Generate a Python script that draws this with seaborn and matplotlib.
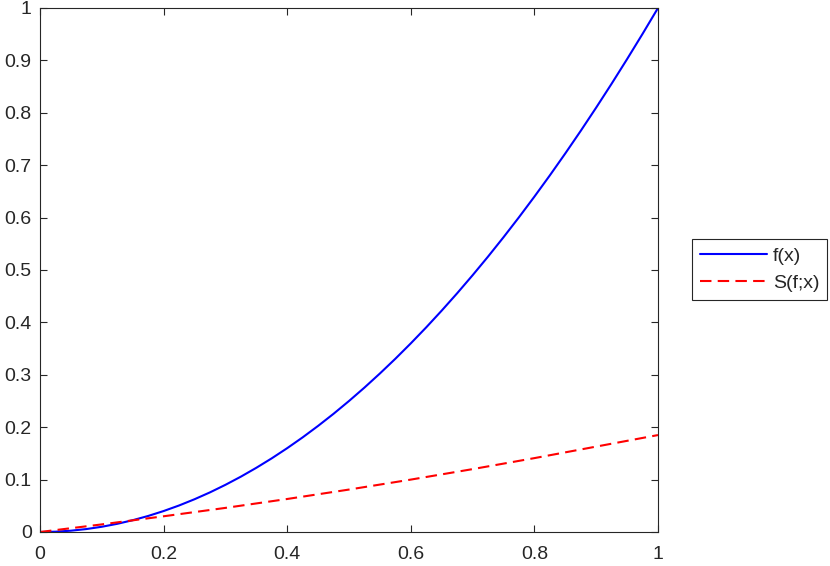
import pandas as pd
import matplotlib.pyplot as plt
import seaborn as sns

# values
x_f = [0, 0.025, 0.05, 0.075, 0.1, 0.125, 0.15, 0.175, 0.2, 0.225, 0.25,
       0.275, 0.3, 0.325, 0.35, 0.375, 0.4, 0.425, 0.45, 0.475, 0.5,
       0.525, 0.55, 0.575, 0.6, 0.625, 0.65, 0.675, 0.7, 0.725, 0.75,
       0.775, 0.8, 0.825, 0.85, 0.875, 0.9, 0.925, 0.95, 0.975, 1.0]
y_f = [0, 0.0006, 0.0025, 0.0056, 0.01, 0.0156, 0.0225, 0.0306, 0.04, 0.0506, 0.0625,
       0.0756, 0.09, 0.1056, 0.1225, 0.1406, 0.16, 0.1806, 0.2025, 0.2256, 0.25,
       0.2756, 0.3025, 0.3306, 0.36, 0.3906, 0.4225, 0.4556, 0.49, 0.5256, 0.5625,
       0.6006, 0.64, 0.6806, 0.7225, 0.7656, 0.81, 0.8556, 0.9025, 0.9506, 1.0]

x_s = [0, 0.1, 0.2, 0.3, 0.4, 0.5, 0.6, 0.7, 0.8, 0.9, 1.0]
y_s = [0, 0.0145, 0.030, 0.046, 0.063, 0.081, 0.100, 0.120, 0.141, 0.163, 0.185]

xticks = [0, 0.2, 0.4, 0.6, 0.8, 1]
xtick_labels = ['0', '0.2', '0.4', '0.6', '0.8', '1']
yticks = [0, 0.1, 0.2, 0.3, 0.4, 0.5, 0.6, 0.7, 0.8, 0.9, 1]
ytick_labels = ['0', '0.1', '0.2', '0.3', '0.4', '0.5', '0.6', '0.7', '0.8', '0.9', '1']

sns.set_style('ticks')
plt.rcParams['font.family'] = ['Liberation Sans', 'DejaVu Sans']

df_f = pd.DataFrame({'x': x_f, 'y': y_f})
df_s = pd.DataFrame({'x': x_s, 'y': y_s})

fig = plt.figure(figsize=(8.3, 5.66), dpi=100)
ax = fig.add_axes([40 / 830, 34 / 566, 618 / 830, 524 / 566])

sns.lineplot(data=df_f, x='x', y='y', ax=ax, color='#0000ff', linewidth=1.5, label='f(x)')
sns.lineplot(data=df_s, x='x', y='y', ax=ax, color='#ff0000', linewidth=1.5,
             linestyle=(0, (5.5, 3)), label='S(f;x)')

ax.set_xlim(0, 1)
ax.set_ylim(0, 1)
ax.set_xticks(xticks)
ax.set_xticklabels(xtick_labels)
ax.set_yticks(yticks)
ax.set_yticklabels(ytick_labels)
ax.set_xlabel('')
ax.set_ylabel('')
ax.tick_params(direction='in', length=5, width=0.8, colors='#262626',
               labelsize=14, top=True, right=True)
ax.tick_params(axis='y', pad=6)
ax.tick_params(axis='x', pad=10)
for side in ['top', 'right', 'bottom', 'left']:
    ax.spines[side].set_visible(True)
    ax.spines[side].set_color('#262626')
    ax.spines[side].set_linewidth(0.8)

# legend box sits right of the axes, roughly at mid height
leg = ax.legend(loc='upper left', bbox_to_anchor=(692 / 830, 1 - 239 / 566),
                bbox_transform=fig.transFigure, borderaxespad=0, fancybox=False,
                edgecolor='#262626', framealpha=1, fontsize=14, handlelength=3.45,
                handletextpad=0.28, labelspacing=0.5, borderpad=0.42)
leg.get_frame().set_linewidth(0.8)
for t in leg.get_texts():
    t.set_color('#262626')

fig.savefig('out.png', dpi=100)
